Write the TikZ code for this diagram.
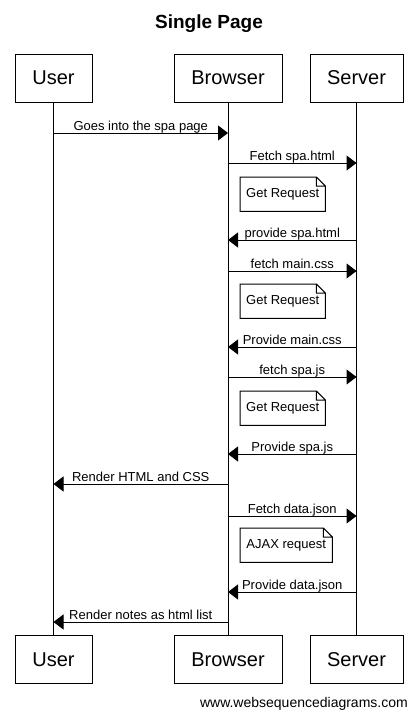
\documentclass[tikz,border=0pt]{standalone}
\usepackage{fontspec}
\setmainfont{Liberation Sans}
\usetikzlibrary{arrows.meta}
\tikzset{
  actor/.style={draw, line width=1pt, minimum height=48pt, inner sep=0pt, font=\fontsize{20}{24}\selectfont},
  msg/.style={line width=1pt, -{Triangle[length=10pt,width=15pt]}},
  lbl/.style={anchor=base, yshift=3pt, inner sep=0pt, font=\fontsize{13}{15}\selectfont},
  note/.style={anchor=north west, minimum height=34pt, inner sep=0pt, font=\fontsize{13}{15}\selectfont},
}
\begin{document}
\begin{tikzpicture}[x=1pt, y=-1pt]
  \useasboundingbox (0,0) rectangle (418,718);
  % title
  \node[anchor=base, font=\bfseries\fontsize{19}{22}\selectfont] (title) at (209,28) {Single Page};
  % participants, top
  \node[actor, minimum width=77pt]  (ut) at (53.5,78)  {User};
  \node[actor, minimum width=108pt] (bt) at (228,78)   {Browser};
  \node[actor, minimum width=93pt]  (st) at (356.5,78) {Server};
  % participants, bottom
  \node[actor, minimum width=77pt]  (ub) at (53.5,659.5)  {User};
  \node[actor, minimum width=108pt] (bb) at (228,659.5)   {Browser};
  \node[actor, minimum width=93pt]  (sb) at (356.5,659.5) {Server};
  % lifelines
  \draw[line width=1pt] (ut.south) -- (ub.north);
  \draw[line width=1pt] (bt.south) -- (bb.north);
  \draw[line width=1pt] (st.south) -- (sb.north);
  % messages
  \draw[msg] (ut |- 0,133) -- node[lbl] {Goes into the spa page} (bt |- 0,133);
  \draw[msg] (bt |- 0,163) -- node[lbl] {Fetch spa.html} (st |- 0,163);
  \node[note, minimum width=85pt] (n1) at (240,177) {Get Request};
  \draw[msg] (st |- 0,240) -- node[lbl] {provide spa.html} (bt |- 0,240);
  \draw[msg] (bt |- 0,271) -- node[lbl] {fetch main.css} (st |- 0,271);
  \node[note, minimum width=85pt] (n2) at (240,284) {Get Request};
  \draw[msg] (st |- 0,347) -- node[lbl] {Provide main.css} (bt |- 0,347);
  \draw[msg] (bt |- 0,377) -- node[lbl] {fetch spa.js} (st |- 0,377);
  \node[note, minimum width=85pt] (n3) at (240,391) {Get Request};
  \draw[msg] (st |- 0,454) -- node[lbl] {Provide spa.js} (bt |- 0,454);
  \draw[msg] (bt |- 0,484) -- node[lbl] {Render HTML and CSS} (ut |- 0,484);
  \draw[msg] (bt |- 0,516) -- node[lbl] {Fetch data.json} (st |- 0,516);
  \node[note, minimum width=92pt] (n4) at (240,528) {AJAX request};
  \draw[msg] (st |- 0,592) -- node[lbl] {Provide data.json} (bt |- 0,592);
  \draw[msg] (bt |- 0,622) -- node[lbl] {Render notes as html list} (ut |- 0,622);
  % note outlines with folded corner
  \foreach \n in {n1,n2,n3,n4}
    \draw[line width=1pt] (\n.south west) -- (\n.north west) -- ([xshift=-9pt]\n.north east)
      -- ([yshift=-9pt]\n.north east) -- (\n.south east) -- cycle
      ([xshift=-9pt]\n.north east) |- ([yshift=-9pt]\n.north east);
  % footer
  \node[anchor=base east, inner sep=0pt, font=\fontsize{14}{16}\selectfont] (site) at (408,707) {www.websequencediagrams.com};
\end{tikzpicture}
\end{document}
